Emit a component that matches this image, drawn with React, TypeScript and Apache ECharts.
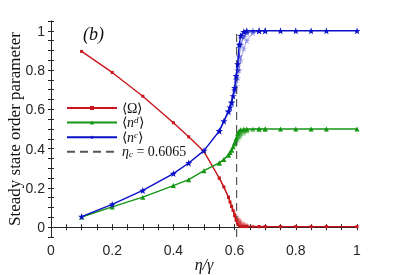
import React, { useEffect, useRef } from 'react';
import * as echarts from 'echarts';

const ETA = [0.1, 0.2, 0.3, 0.4, 0.45, 0.5, 0.55, 0.565, 0.58, 0.585, 0.59, 0.595, 0.6, 0.605, 0.61, 0.615, 0.62, 0.63, 0.64, 0.68, 0.7, 0.75, 0.8, 0.85, 0.9, 1.0];
const OMEGA = [0.895, 0.788, 0.667, 0.532, 0.46, 0.385, 0.25, 0.205, 0.152, 0.128, 0.105, 0.085, 0.058, 0.035, 0.015, 0.007, 0.004, 0.003, 0.003, 0.003, 0.003, 0.003, 0.003, 0.003, 0.003, 0.003];
const N_D = [0.052, 0.103, 0.153, 0.212, 0.242, 0.288, 0.327, 0.345, 0.368, 0.38, 0.393, 0.41, 0.43, 0.452, 0.478, 0.49, 0.496, 0.499, 0.5, 0.5, 0.5, 0.5, 0.5, 0.5, 0.5, 0.5];
const N_C = [0.054, 0.116, 0.187, 0.273, 0.327, 0.39, 0.49, 0.54, 0.59, 0.61, 0.635, 0.668, 0.71, 0.77, 0.83, 0.93, 0.975, 0.995, 1, 1, 1, 1, 1, 1, 1, 1];

const ETA_FADE = [0.55, 0.58, 0.59, 0.6, 0.605, 0.61, 0.615, 0.62, 0.63, 0.64, 0.66, 0.68, 0.7];
const OMEGA_FADE_A = [0.25, 0.152, 0.105, 0.065, 0.045, 0.035, 0.025, 0.018, 0.01, 0.006, 0.003, 0.003, 0.003];
const OMEGA_FADE_B = [0.25, 0.155, 0.11, 0.075, 0.06, 0.05, 0.04, 0.032, 0.02, 0.012, 0.005, 0.003, 0.003];
const N_D_FADE_A = [0.327, 0.368, 0.393, 0.425, 0.44, 0.46, 0.47, 0.48, 0.49, 0.495, 0.5, 0.5, 0.5];
const N_D_FADE_B = [0.327, 0.367, 0.39, 0.42, 0.43, 0.445, 0.455, 0.465, 0.478, 0.488, 0.497, 0.5, 0.5];
const N_C_FADE_A = [0.49, 0.59, 0.635, 0.7, 0.75, 0.8, 0.87, 0.93, 0.97, 0.99, 1, 1, 1];
const N_C_FADE_B = [0.49, 0.585, 0.63, 0.69, 0.72, 0.76, 0.8, 0.85, 0.91, 0.95, 0.99, 1, 1];

const ETA_C = 0.6065;
const DASH_Y = [-0.05, 1];

const X_LABELS = [0, 0.2, 0.4, 0.6, 0.8, 1];
const Y_LABELS = [0, 0.2, 0.4, 0.6, 0.8, 1];
const X_TICKS = [0, 0.05, 0.1, 0.15, 0.2, 0.25, 0.3, 0.35, 0.4, 0.45, 0.5, 0.55, 0.6, 0.65, 0.7, 0.75, 0.8, 0.85, 0.9, 0.95, 1];
const Y_TICKS = [-0.05, 0, 0.05, 0.1, 0.15, 0.2, 0.25, 0.3, 0.35, 0.4, 0.45, 0.5, 0.55, 0.6, 0.65, 0.7, 0.75, 0.8, 0.85, 0.9, 0.95, 1, 1.05];

const RED = '#c8171c';
const GREEN = '#149614';
const BLUE = '#0a10c8';

const STAR = 'path://M0,-10L2.35,-3.24L9.51,-3.09L3.8,1.24L5.88,8.09L0,4L-5.88,8.09L-3.8,1.24L-9.51,-3.09L-2.35,-3.24Z';

const zip = (xs: number[], ys: number[]) => xs.map((x, i) => [x, ys[i]]);

const SERIF = 'Liberation Serif';
const SANS = 'Liberation Sans';
const AX = '#262626';

export default function App() {
  const ref = useRef<HTMLDivElement>(null);
  useEffect(() => {
    if (!ref.current) return;
    const chart = echarts.init(ref.current, undefined, { renderer: 'svg' });
    const fade = (name: string, ys: number[], color: string, symbol: string, size: number, opacity: number) => ({
      name,
      type: 'line',
      data: zip(ETA_FADE, ys),
      symbol,
      symbolSize: size,
      lineStyle: { color, width: 1.2, opacity },
      itemStyle: { color, opacity },
      z: 1,
    });
    const xBase = {
      type: 'value',
      min: 0,
      max: 1,
      axisLine: { show: true, lineStyle: { color: AX, width: 1 } },
      splitLine: { show: false },
      axisTick: { show: true, inside: true, length: 3, customValues: X_TICKS, lineStyle: { color: AX } },
    };
    const yBase = {
      type: 'value',
      min: -0.05,
      max: 1.05,
      axisLine: { show: true, lineStyle: { color: AX, width: 1 } },
      splitLine: { show: false },
      axisTick: { show: true, inside: true, length: 3, customValues: Y_TICKS, lineStyle: { color: AX } },
    };
    const legendNames: Record<string, string> = {
      omega: '{t|⟨Ω⟩}',
      nd: '{t|⟨}{i|n}{sup|d}{t|⟩}',
      nc: '{t|⟨}{i|n}{sup|c}{t|⟩}',
      etac: '{i|η}{sub|c}{t| = 0.6065}',
    };
    chart.setOption({
      animation: false,
      title: {
        text: '(b)',
        left: 78,
        top: 20,
        textStyle: { fontFamily: SERIF, fontStyle: 'italic', fontWeight: 'normal', fontSize: 18, color: '#111' },
      },
      grid: { left: 51, top: 21, width: 306, height: 216, outerBoundsMode: 'none' },
      legend: {
        data: [
          { name: 'omega' },
          { name: 'nd' },
          { name: 'nc' },
          { name: 'etac', itemStyle: { opacity: 0 } },
        ],
        orient: 'vertical',
        left: 61,
        top: 96,
        padding: 5,
        itemWidth: 50,
        itemHeight: 5,
        itemGap: 0.6,
        formatter: (name: string) => legendNames[name],
        textStyle: {
          rich: {
            t: { fontFamily: SERIF, fontSize: 14, color: '#111', lineHeight: 14 },
            i: { fontFamily: SERIF, fontStyle: 'italic', fontSize: 14, color: '#111', lineHeight: 14 },
            sup: { fontFamily: SERIF, fontStyle: 'italic', fontSize: 9, color: '#111', verticalAlign: 'top', lineHeight: 14 },
            sub: { fontFamily: SERIF, fontStyle: 'italic', fontSize: 9, color: '#111', verticalAlign: 'bottom', lineHeight: 14 },
          },
        },
      },
      xAxis: [
        {
          ...xBase,
          position: 'bottom',
          name: 'η/γ',
          nameLocation: 'middle',
          nameGap: 19,
          nameMoveOverlap: false,
          nameTextStyle: { fontFamily: SERIF, fontStyle: 'italic', fontSize: 16, color: '#111' },
          axisLabel: { customValues: X_LABELS, fontFamily: SANS, fontSize: 14, color: AX, margin: 6 },
        },
        { ...xBase, position: 'top', axisLabel: { show: false } },
      ],
      yAxis: [
        {
          ...yBase,
          position: 'left',
          name: 'Steady state order parameter',
          nameLocation: 'middle',
          nameGap: 28,
          nameMoveOverlap: false,
          nameTextStyle: { fontFamily: SERIF, fontSize: 17, color: '#111' },
          axisLabel: { customValues: Y_LABELS, fontFamily: SANS, fontSize: 14, color: AX, margin: 6 },
        },
        { ...yBase, position: 'right', axisLabel: { show: false } },
      ],
      series: [
        fade('omegaA', OMEGA_FADE_A, RED, 'rect', 3, 0.55),
        fade('omegaB', OMEGA_FADE_B, RED, 'rect', 3, 0.3),
        fade('ndA', N_D_FADE_A, GREEN, 'triangle', 5, 0.55),
        fade('ndB', N_D_FADE_B, GREEN, 'triangle', 5, 0.3),
        fade('ncA', N_C_FADE_A, BLUE, STAR, 7, 0.55),
        fade('ncB', N_C_FADE_B, BLUE, STAR, 7, 0.3),
        {
          name: 'omega',
          type: 'line',
          data: zip(ETA, OMEGA),
          symbol: 'rect',
          symbolSize: 3,
          lineStyle: { color: RED, width: 1.4 },
          itemStyle: { color: RED },
          z: 3,
        },
        {
          name: 'nd',
          type: 'line',
          data: zip(ETA, N_D),
          symbol: 'triangle',
          symbolSize: 5,
          lineStyle: { color: GREEN, width: 1.4 },
          itemStyle: { color: GREEN },
          z: 3,
        },
        {
          name: 'nc',
          type: 'line',
          data: zip(ETA, N_C),
          symbol: STAR,
          symbolSize: 7,
          lineStyle: { color: BLUE, width: 1.4 },
          itemStyle: { color: BLUE },
          z: 3,
        },
        {
          name: 'etac',
          type: 'line',
          data: DASH_Y.map((y) => [ETA_C, y]),
          symbol: 'none',
          lineStyle: { color: '#555', width: 1.2, type: [8, 5] },
          itemStyle: { color: '#555' },
          z: 2,
        },
      ],
    });
    return () => chart.dispose();
  }, []);
  return <div ref={ref} style={{ position: 'fixed', left: 0, top: 0, width: 395, height: 275 }} />;
}
